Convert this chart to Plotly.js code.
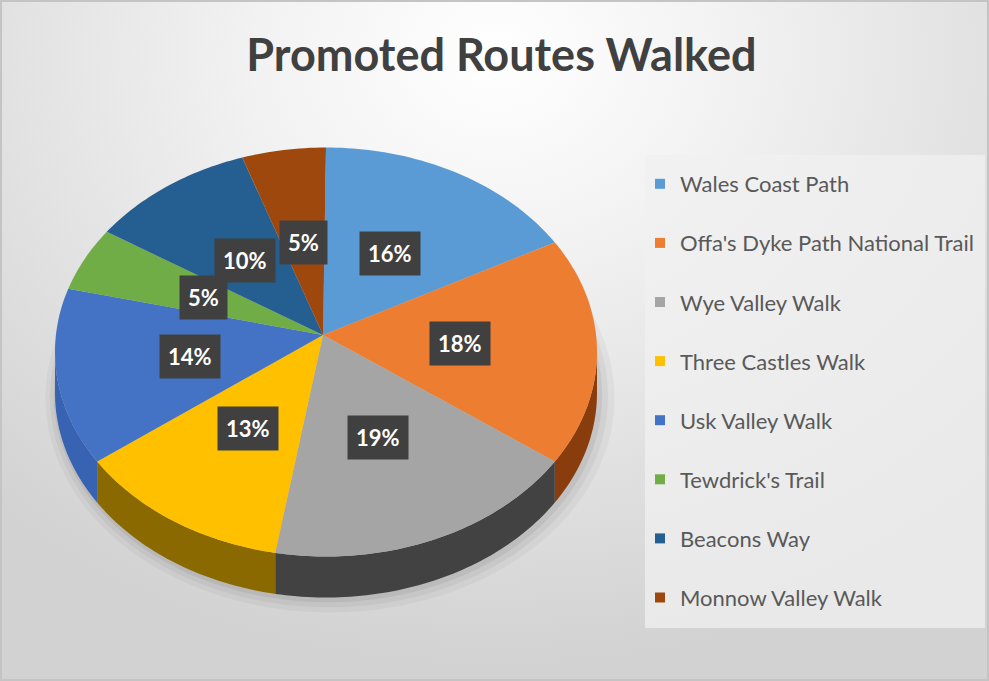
<!DOCTYPE html>
<html>
<head>
<meta charset="utf-8">
<script src="https://cdn.plot.ly/plotly-3.0.1.min.js"></script>
<style>
  html, body { margin: 0; padding: 0; background: #ffffff; }
  #wrap {
    position: absolute; left: 0; top: 0; width: 989px; height: 681px; box-sizing: border-box;
    border: 2px solid #c4c4c4;
    background: radial-gradient(ellipse 75% 90% at 50% 8%, #ffffff 0%, #f3f3f3 30%, #e0e0e0 70%, #d2d2d2 100%);
  }
  #chart { position: absolute; left: -2px; top: -2px; width: 989px; height: 681px; }
</style>
</head>
<body>
<div id="wrap"><div id="chart"></div></div>
<script>
// ---- data ----
const routes = [
  "Wales Coast Path",
  "Offa's Dyke Path National Trail",
  "Wye Valley Walk",
  "Three Castles Walk",
  "Usk Valley Walk",
  "Tewdrick's Trail",
  "Beacons Way",
  "Monnow Valley Walk"
];
const shares = [16, 18, 19, 13, 14, 5, 10, 5];

// ---- styles ----
const topColors = ["#5B9BD5", "#ED7D31", "#A5A5A5", "#FFC000", "#4472C4", "#70AD47", "#255E91", "#9E480E"];
const sideColors = ["#34618c", "#8a3d0c", "#424242", "#8a6a00", "#3862b2", "#4b7a2e", "#173d60", "#5e2a08"];

// geometry of the tilted pie (pixel units of the hidden axes)
const geo = { cx: 326, cy: 352, rx: 271, ry: 204.5, apexX: 323, apexY: 335, depth: 41 };

function arcPt(t, dy) {
  return [geo.cx + geo.rx * Math.sin(t), geo.cy - geo.ry * Math.cos(t) + (dy || 0)];
}

const total = shares.reduce((a, b) => a + b, 0);
const traces = [];
const annotations = [];

// soft shadow under the pie
[[1.05, 0.035, 8], [1.03, 0.045, 6], [1.012, 0.06, 4]].forEach(([s, a, off]) => {
  const xs = [], ys = [];
  for (let i = 0; i <= 120; i++) {
    const t = i / 120 * 2 * Math.PI;
    xs.push(geo.cx + off * 0.5 + geo.rx * s * Math.sin(t));
    ys.push(geo.cy + geo.depth + off * 0.6 - geo.ry * s * Math.cos(t));
  }
  traces.push({ type: 'scatter', x: xs, y: ys, mode: 'none', fill: 'toself',
    fillcolor: 'rgba(0,0,0,' + a + ')', hoverinfo: 'skip', showlegend: false });
});

// side walls (front half only)
let cum = 0;
shares.forEach((v, i) => {
  const a0 = cum / total * 2 * Math.PI;
  const a1 = (cum + v) / total * 2 * Math.PI;
  cum += v;
  const lo = Math.max(a0, Math.PI / 2), hi = Math.min(a1, 3 * Math.PI / 2);
  if (hi <= lo) return;
  const xs = [], ys = [];
  const n = Math.max(4, Math.ceil((hi - lo) / 0.02));
  for (let k = 0; k <= n; k++) { const p = arcPt(lo + (hi - lo) * k / n, 0); xs.push(p[0]); ys.push(p[1]); }
  for (let k = n; k >= 0; k--) { const p = arcPt(lo + (hi - lo) * k / n, geo.depth); xs.push(p[0]); ys.push(p[1]); }
  traces.push({ type: 'scatter', x: xs, y: ys, mode: 'none', fill: 'toself',
    fillcolor: sideColors[i], hoverinfo: 'skip', showlegend: false });
});

// top faces + labels
cum = 0;
shares.forEach((v, i) => {
  const a0 = cum / total * 2 * Math.PI;
  const a1 = (cum + v) / total * 2 * Math.PI;
  cum += v;
  const xs = [geo.apexX], ys = [geo.apexY];
  const n = Math.max(4, Math.ceil((a1 - a0) / 0.02));
  for (let k = 0; k <= n; k++) { const p = arcPt(a0 + (a1 - a0) * k / n, 0); xs.push(p[0]); ys.push(p[1]); }
  xs.push(geo.apexX); ys.push(geo.apexY);
  traces.push({ type: 'scatter', x: xs, y: ys, mode: 'none', fill: 'toself',
    fillcolor: topColors[i], name: routes[i], hoverinfo: 'name', showlegend: false });
  const mid = arcPt((a0 + a1) / 2, 0);
  annotations.push({
    x: geo.apexX + 0.5 * (mid[0] - geo.apexX),
    y: geo.apexY + 0.5 * (mid[1] - geo.apexY),
    xref: 'x', yref: 'y', showarrow: false,
    text: Math.round(v / total * 100) + '%',
    font: { family: 'Lato, "Open Sans", sans-serif', size: 22, color: '#ffffff', weight: 'bold' },
    bgcolor: '#404040', borderpad: 8
  });
});

// legend entries (square swatches)
routes.forEach((r, i) => {
  traces.push({ type: 'scatter', x: [null], y: [null], mode: 'markers', name: r,
    legendgroup: 'g' + i,
    marker: { symbol: 'square', size: 10, color: topColors[i] }, showlegend: true, hoverinfo: 'skip' });
});

const layout = {
  width: 989, height: 681, autosize: false,
  margin: { l: 0, r: 0, t: 0, b: 0, pad: 0 },
  paper_bgcolor: 'rgba(0,0,0,0)', plot_bgcolor: 'rgba(0,0,0,0)',
  xaxis: { range: [0, 989], visible: false, fixedrange: true, domain: [0, 1] },
  yaxis: { range: [681, 0], visible: false, fixedrange: true, domain: [0, 1] },
  title: { text: 'Promoted Routes Walked', x: 0.507, xanchor: 'center', y: 1 - 55 / 681, yanchor: 'middle',
    font: { family: 'Lato, "Open Sans", sans-serif', size: 45, color: '#404040', weight: 'bold' } },
  showlegend: true,
  legend: {
    x: 640 / 989, xanchor: 'left', y: 1 - 163 / 681, yanchor: 'top',
    bgcolor: 'rgba(0,0,0,0)', borderwidth: 0,
    font: { family: 'Lato, "Open Sans", sans-serif', size: 22, color: '#595959' },
    tracegroupgap: 27.5, itemclick: false, itemdoubleclick: false
  },
  shapes: [{ type: 'rect', xref: 'paper', yref: 'paper', layer: 'below',
    x0: 645 / 989, x1: 985 / 989, y0: 1 - 628 / 681, y1: 1 - 155 / 681,
    fillcolor: 'rgba(240,240,240,0.75)', line: { width: 0 } }],
  annotations: annotations
};

Plotly.newPlot('chart', traces, layout, { displayModeBar: false, staticPlot: true });
</script>
</body>
</html>
